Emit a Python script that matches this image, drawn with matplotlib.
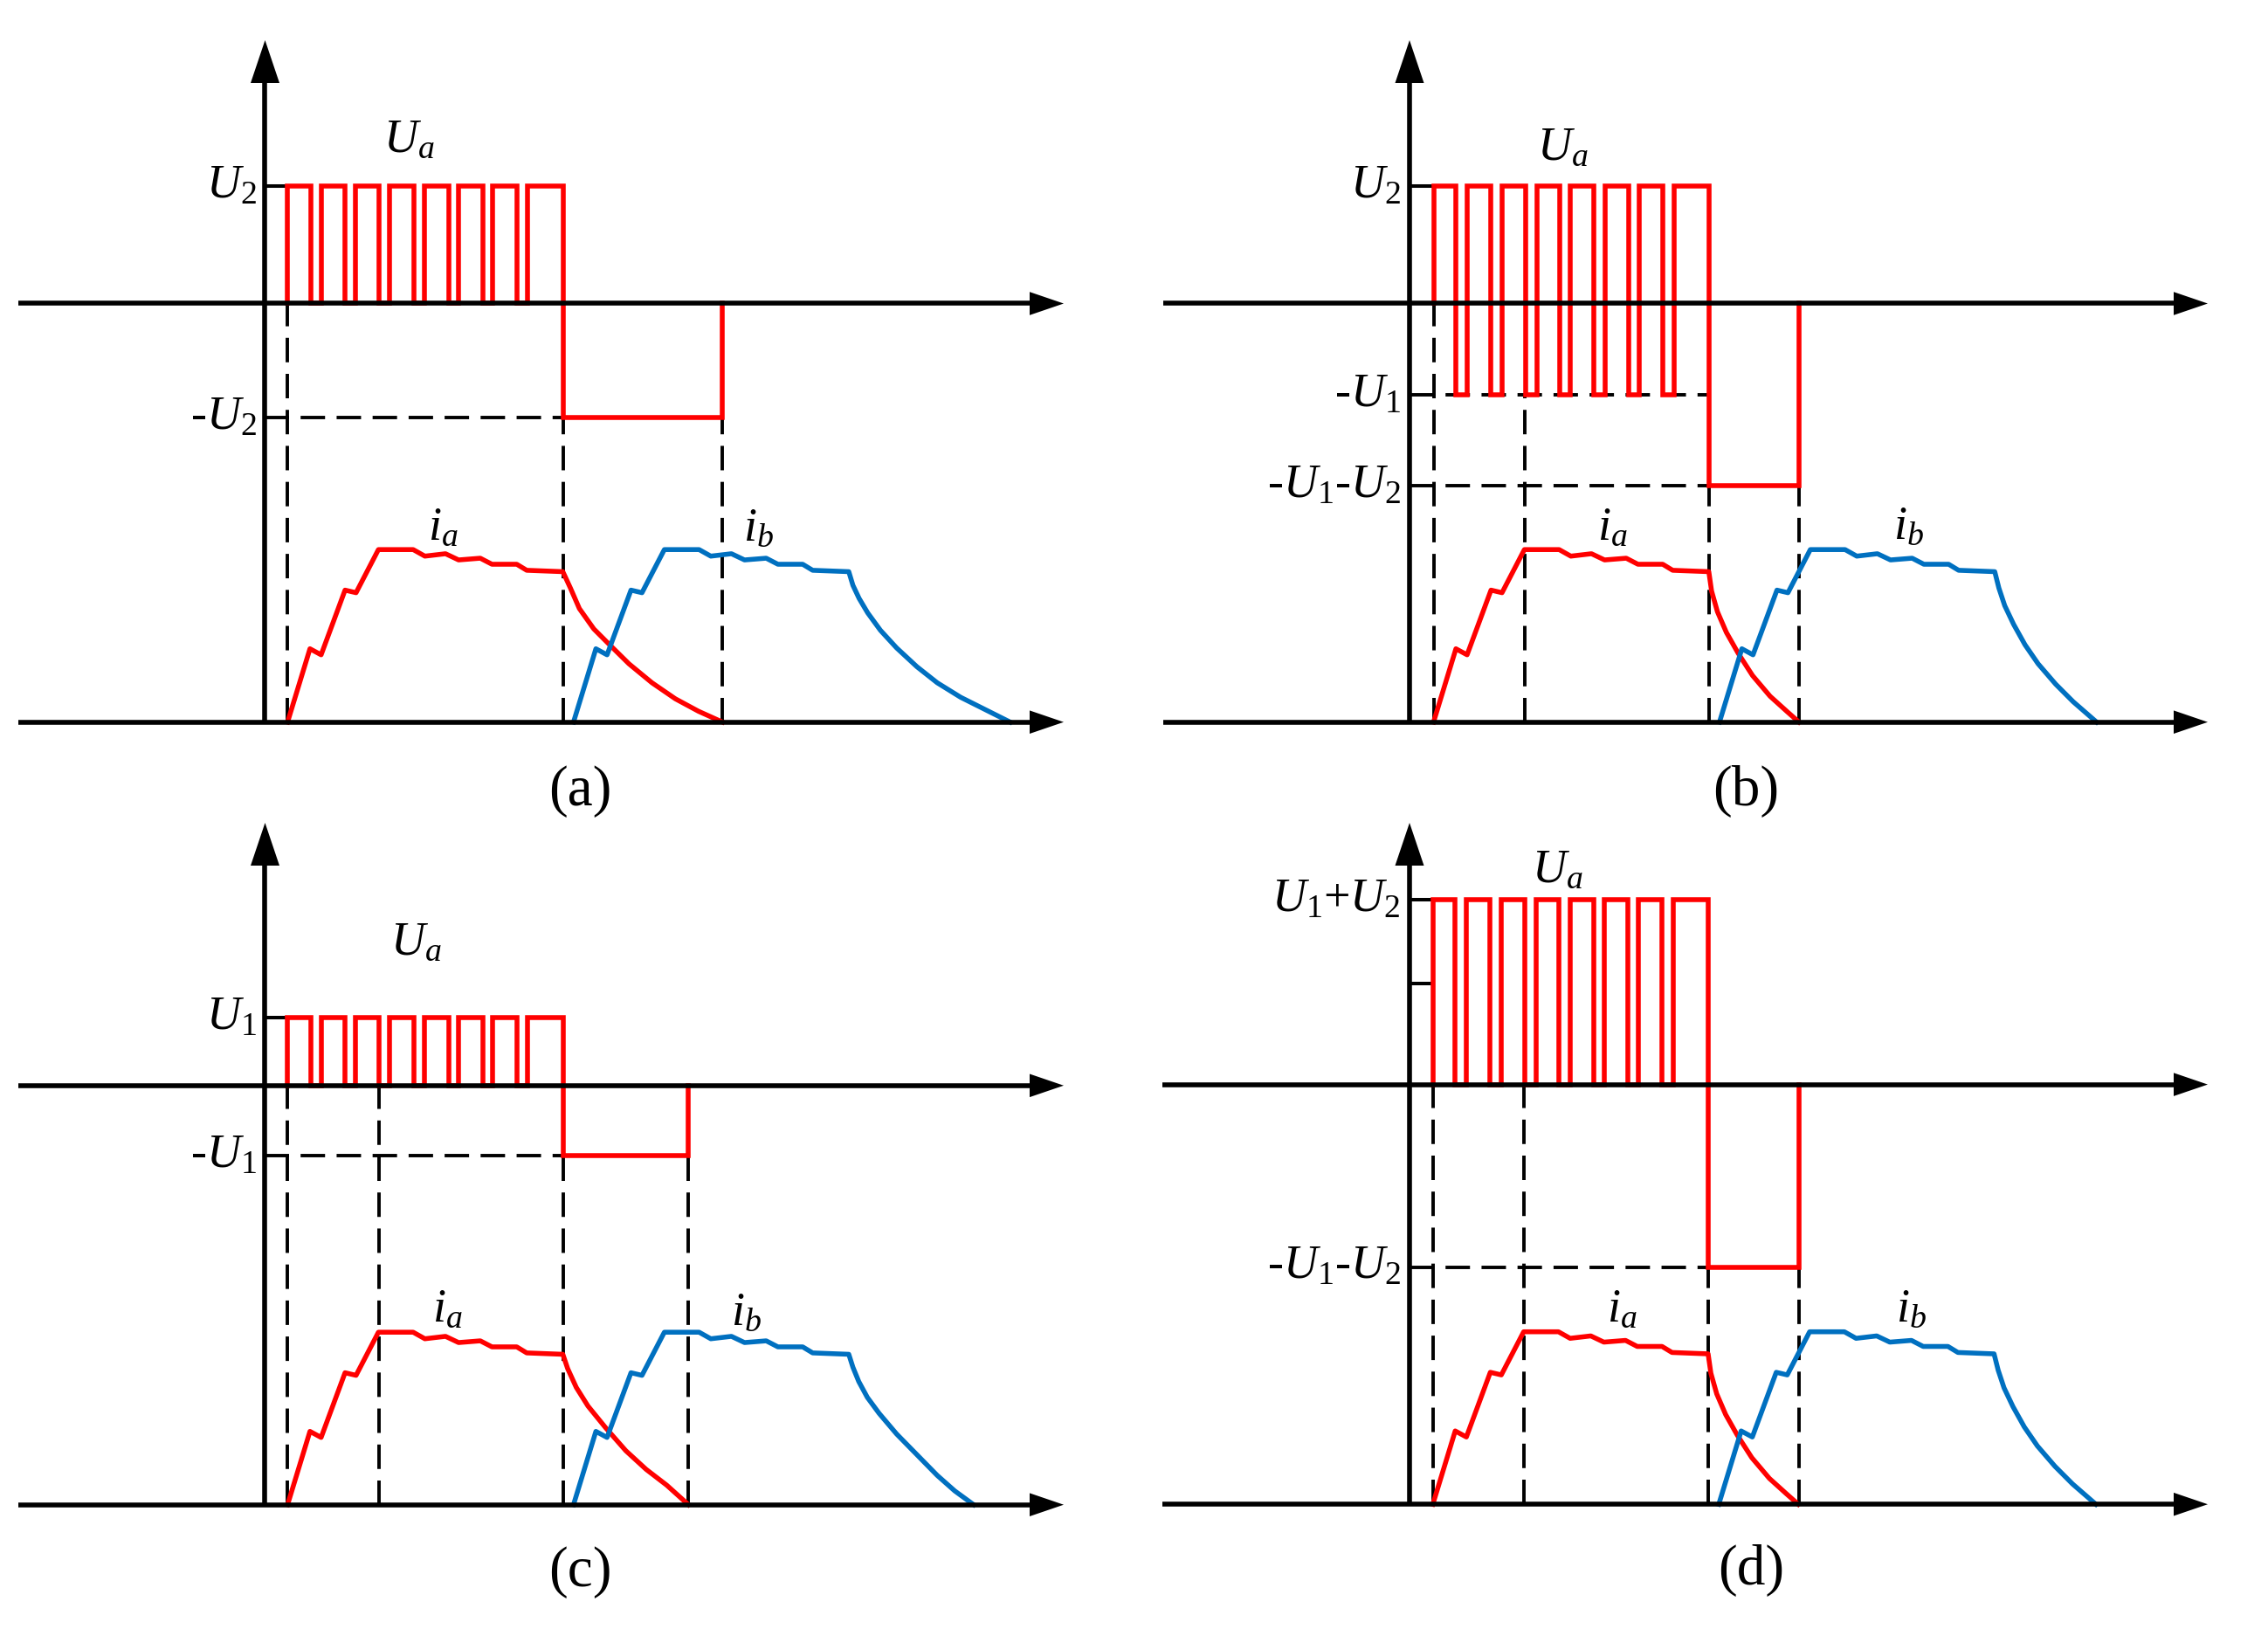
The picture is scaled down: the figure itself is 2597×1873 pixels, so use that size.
import matplotlib
matplotlib.use('Agg')
import matplotlib.pyplot as plt
from matplotlib.patches import Polygon
import numpy as np

plt.rcParams['mathtext.fontset'] = 'custom'
plt.rcParams['mathtext.rm'] = 'Liberation Serif'
plt.rcParams['mathtext.it'] = 'Liberation Serif:italic'
plt.rcParams['font.family'] = ['Liberation Serif', 'DejaVu Serif']

# ------------------------------------------------------------------ data
# time in PWM periods from the start of conduction, current normalised to its peak,
# voltage in units of U2 of panel (a)
PANEL_NAMES = ['(a)', '(b)', '(c)', '(d)']

I_RISE_T = [0.0, 0.65, 0.975, 1.67, 1.99, 2.64, 3.65, 3.99, 4.59, 4.97, 5.60, 5.94, 6.66, 6.95, 8.0]
I_RISE_I = [0.0, 0.425, 0.39, 0.765, 0.75, 1.0, 1.0, 0.962, 0.976, 0.94, 0.95, 0.915, 0.915, 0.88, 0.872]
I_B_DELAY = 8.31

A_IA_DECAY_T = [8.22, 8.48, 8.90, 9.32, 9.92, 10.59, 11.27, 11.94, 12.64]
A_IA_DECAY_I = [0.777, 0.658, 0.54, 0.456, 0.338, 0.228, 0.135, 0.063, 0.0]
A_IB_DECAY_T = [8.12, 8.30, 8.55, 8.92, 9.39, 9.98, 10.57, 11.25, 11.93, 12.69]
A_IB_DECAY_I = [0.793, 0.717, 0.633, 0.532, 0.43, 0.321, 0.228, 0.144, 0.076, 0.0]

B_IA_DECAY_T = [8.08, 8.25, 8.51, 8.85, 9.27, 9.78, 10.28, 10.62]
B_IA_DECAY_I = [0.76, 0.64, 0.52, 0.40, 0.27, 0.15, 0.06, 0.0]
B_IB_DECAY_T = [8.12, 8.29, 8.55, 8.88, 9.26, 9.77, 10.28, 10.96]
B_IB_DECAY_I = [0.777, 0.675, 0.566, 0.448, 0.338, 0.22, 0.118, 0.0]

C_IA_DECAY_T = [8.14, 8.39, 8.73, 9.24, 9.83, 10.42, 11.02, 11.65]
C_IA_DECAY_I = [0.789, 0.68, 0.572, 0.447, 0.313, 0.205, 0.113, 0.0]
C_IB_DECAY_T = [8.12, 8.29, 8.54, 8.88, 9.39, 9.98, 10.57, 11.08, 11.63]
C_IB_DECAY_I = [0.797, 0.714, 0.622, 0.53, 0.41, 0.29, 0.17, 0.08, 0.0]

D_IA_DECAY_T = [8.08, 8.25, 8.51, 8.85, 9.27, 9.78, 10.28, 10.62]
D_IA_DECAY_I = [0.76, 0.64, 0.52, 0.40, 0.27, 0.15, 0.06, 0.0]
D_IB_DECAY_T = [8.12, 8.29, 8.55, 8.88, 9.26, 9.77, 10.28, 10.96]
D_IB_DECAY_I = [0.777, 0.675, 0.566, 0.448, 0.338, 0.22, 0.118, 0.0]

PWM_END = 8.0
PWM_LOW_START_AC = [0.68, 1.68, 2.67, 3.68, 4.68, 5.68, 6.67]
PWM_LOW_END_AC = [0.97, 1.97, 2.97, 3.98, 4.97, 5.96, 6.96]
PWM_LOW_START_BD = [0.64, 1.67, 2.68, 3.66, 4.67, 5.66, 6.67]
PWM_LOW_END_BD = [0.97, 1.99, 3.00, 3.98, 4.98, 5.97, 6.98]

# voltage levels: high, low (during chopping off), negative, end of negative interval
A_LEVELS = dict(high=1.0, low=0.0, neg=-0.975, neg_end=12.64)
B_LEVELS = dict(high=1.0, low=-0.783, neg=-1.557, neg_end=10.63)
C_LEVELS = dict(high=0.582, low=0.0, neg=-0.60, neg_end=11.63)
D_LEVELS = dict(high=1.58, low=0.0, neg=-1.559, neg_end=10.63)

A_TICK_LABELS = ['$U_2$', '-$U_2$']
A_TICK_VALUES = [1.0, -0.975]
B_TICK_LABELS = ['$U_2$', '-$U_1$', '-$U_1$-$U_2$']
B_TICK_VALUES = [1.0, -0.783, -1.557]
C_TICK_LABELS = ['$U_1$', '-$U_1$']
C_TICK_VALUES = [0.582, -0.60]
D_TICK_LABELS = ['$U_1$+$U_2$', '-$U_1$-$U_2$']
D_TICK_VALUES = [1.58, -1.559]
D_EXTRA_TICK = [0.865]

I_PEAK_TIME = 2.65

# ------------------------------------------------------------------ layout
W, H, DPI = 2597, 1873, 100
PX_T, PX_I, PX_V = 39.4, 197.5, 134.0
RED = '#FF0000'
BLUE = '#0070C0'
LW_AX = 4.0
LW_W = 4.0
LW_D = 2.8
FS = 39
FS_PANEL = 47

fig = plt.figure(figsize=(W / DPI, H / DPI), dpi=DPI)

GEOM = {
    '(a)': dict(x0=329.3, ybot=826.7, ytop=347.5, yaxis=303.5, left=20.7, tip=1218, vtip=46,
                lab=(664, 906)),
    '(b)': dict(x0=1641.5, ybot=826.7, ytop=347.5, yaxis=1614.0, left=1331.5, tip=2528, vtip=46,
                lab=(1999, 906)),
    '(c)': dict(x0=329.3, ybot=1722.7, ytop=1242.8, yaxis=303.5, left=20.7, tip=1218, vtip=942,
                lab=(664, 1800)),
    '(d)': dict(x0=1640.7, ybot=1722.2, ytop=1241.6, yaxis=1614.0, left=1331.5, tip=2528, vtip=942,
                lab=(2005, 1798)),
}

SPECS = {
    '(a)': dict(levels=A_LEVELS, lows=(PWM_LOW_START_AC, PWM_LOW_END_AC),
                ia=(A_IA_DECAY_T, A_IA_DECAY_I), ib=(A_IB_DECAY_T, A_IB_DECAY_I),
                ticks=(A_TICK_LABELS, A_TICK_VALUES), extra=[], peakdash=None,
                ua=(3.52, 1.40), ial=(4.52, 1.125), ibl=(13.68, 1.12)),
    '(b)': dict(levels=B_LEVELS, lows=(PWM_LOW_START_BD, PWM_LOW_END_BD),
                ia=(B_IA_DECAY_T, B_IA_DECAY_I), ib=(B_IB_DECAY_T, B_IB_DECAY_I),
                ticks=(B_TICK_LABELS, B_TICK_VALUES), extra=[], peakdash='low',
                ua=(3.74, 1.33), ial=(5.21, 1.125), ibl=(13.8, 1.13)),
    '(c)': dict(levels=C_LEVELS, lows=(PWM_LOW_START_AC, PWM_LOW_END_AC),
                ia=(C_IA_DECAY_T, C_IA_DECAY_I), ib=(C_IB_DECAY_T, C_IB_DECAY_I),
                ticks=(C_TICK_LABELS, C_TICK_VALUES), extra=[], peakdash='zero',
                ua=(3.73, 1.22), ial=(4.64, 1.13), ibl=(13.34, 1.11)),
    '(d)': dict(levels=D_LEVELS, lows=(PWM_LOW_START_BD, PWM_LOW_END_BD),
                ia=(D_IA_DECAY_T, D_IA_DECAY_I), ib=(D_IB_DECAY_T, D_IB_DECAY_I),
                ticks=(D_TICK_LABELS, D_TICK_VALUES), extra=D_EXTRA_TICK, peakdash='zero',
                ua=(3.61, 1.83), ial=(5.5, 1.13), ibl=(13.9, 1.13)),
}

DASH = (0, (7.2, 3.4))


def draw_panel(name):
    g = GEOM[name]
    s = SPECS[name]
    x0, ybot, ytop = g['x0'], g['ybot'], g['ytop']
    voff = (ybot - ytop) / PX_I
    vsc = PX_V / PX_I

    def V(v):
        return voff + np.asarray(v, dtype=float) * vsc

    def T(px):
        return (px - x0) / PX_T

    def Y(py):
        return (ybot - py) / PX_I

    tmin, tmax = -8.8, 23.4
    ymin, ymax = -0.8, 4.35
    l = x0 + tmin * PX_T
    r = x0 + tmax * PX_T
    bpx = ybot - ymin * PX_I
    tpx = ybot - ymax * PX_I
    ax = fig.add_axes([l / W, 1 - bpx / H, (r - l) / W, (bpx - tpx) / H])
    ax.set_xlim(tmin, tmax)
    ax.set_ylim(ymin, ymax)
    ax.axis('off')

    ty = T(g['yaxis'])
    # horizontal axes with arrow heads
    HL, HW = 39.0, 13.3
    for yb in (0.0, voff):
        ax.plot([T(g['left']), T(g['tip'] - HL + 2)], [yb, yb], color='k', lw=LW_AX,
                solid_capstyle='butt', zorder=5)
        ax.add_patch(Polygon([(T(g['tip']), yb), (T(g['tip'] - HL), yb + HW / PX_I),
                              (T(g['tip'] - HL), yb - HW / PX_I)], closed=True,
                             facecolor='k', edgecolor='none', zorder=6))
    # vertical axis
    VL, VW = 49.0, 16.5
    ax.plot([ty, ty], [0.0, Y(g['vtip'] + VL - 2)], color='k', lw=LW_AX,
            solid_capstyle='butt', zorder=5)
    ax.add_patch(Polygon([(ty, Y(g['vtip'])), (ty - VW / PX_T, Y(g['vtip'] + VL)),
                          (ty + VW / PX_T, Y(g['vtip'] + VL))], closed=True,
                         facecolor='k', edgecolor='none', zorder=6))

    lev = s['levels']
    # voltage waveform
    vt = [0.0, 0.0]
    vv = [0.0, lev['high']]
    for a, b in zip(*s['lows']):
        vt += [a, a, b, b]
        vv += [lev['high'], lev['low'], lev['low'], lev['high']]
    vt += [PWM_END, PWM_END, lev['neg_end'], lev['neg_end']]
    vv += [lev['high'], lev['neg'], lev['neg'], 0.0]
    ax.plot(vt, V(vv), color=RED, lw=LW_W, solid_joinstyle='miter', zorder=4)

    # dashed guides
    dk = dict(color='k', lw=LW_D, linestyle=DASH, zorder=2)
    ax.plot([0, 0], [0, V(0.0)], **dk)
    if s['peakdash'] == 'zero':
        ax.plot([I_PEAK_TIME, I_PEAK_TIME], [0, V(0.0)], **dk)
    elif s['peakdash'] == 'low':
        ax.plot([I_PEAK_TIME, I_PEAK_TIME], [0, V(lev['low'])], **dk)
    for tt in (PWM_END, lev['neg_end']):
        ax.plot([tt, tt], [0, V(lev['neg'])], **dk)
    ax.plot([ty, PWM_END], [V(lev['neg']), V(lev['neg'])], **dk)
    if lev['low'] != 0.0:
        ax.plot([ty, PWM_END], [V(lev['low']), V(lev['low'])], **dk)

    # small ticks on the y axis
    for v in [lev['high']] + list(s['extra']):
        ax.plot([ty, 0.0], [V(v), V(v)], color='k', lw=2.9, solid_capstyle='butt', zorder=3)

    # tick labels
    for lab, v in zip(*s['ticks']):
        ax.text(T(g['yaxis'] - 10), float(V(v)), lab, ha='right', va='center', fontsize=FS)

    # currents
    ia_t = I_RISE_T + s['ia'][0]
    ia_i = I_RISE_I + s['ia'][1]
    ib_t = [t + I_B_DELAY for t in I_RISE_T + s['ib'][0]]
    ib_i = I_RISE_I + s['ib'][1]
    ax.plot(ia_t, ia_i, color=RED, lw=LW_W, solid_joinstyle='round', zorder=4)
    ax.plot(ib_t, ib_i, color=BLUE, lw=LW_W, solid_joinstyle='round', zorder=4)

    # labels
    ax.text(s['ua'][0], float(V(s['ua'][1])), '$U_a$', ha='center', va='center', fontsize=FS)
    ax.text(s['ial'][0], s['ial'][1], '$i_a$', ha='center', va='center', fontsize=FS)
    ax.text(s['ibl'][0], s['ibl'][1], '$i_b$', ha='center', va='center', fontsize=FS)
    fig.text(g['lab'][0] / W, 1 - g['lab'][1] / H, name, ha='center', va='center',
             fontsize=FS_PANEL, family='Liberation Serif')


for nm in PANEL_NAMES:
    draw_panel(nm)

fig.savefig('out.png', dpi=DPI)
